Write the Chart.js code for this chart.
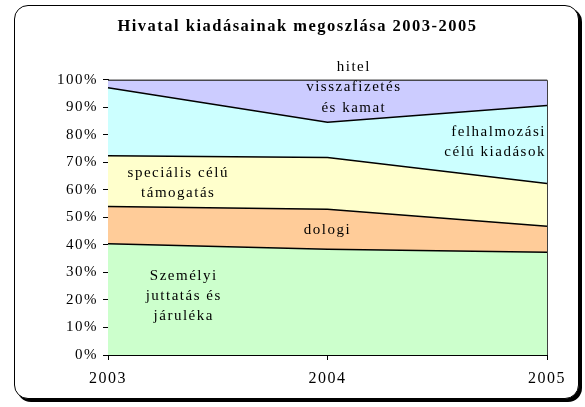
<!DOCTYPE html>
<html>
<head>
<meta charset="utf-8">
<script src="https://cdn.jsdelivr.net/npm/chart.js@4/dist/chart.umd.min.js"></script>
<style>
  body { margin: 0; background: #fff; }
  #frame {
    position: absolute; left: 14px; top: 5px; width: 563px; height: 392px;
    border: 1px solid #000; border-radius: 14px; box-shadow: 3px 3px 0 #000;
    background: #fff;
  }
  #wrap { position: absolute; left: 0; top: 0; width: 585px; height: 407px; }
</style>
</head>
<body>
<div id="frame"></div>
<div id="wrap"><canvas id="myAreaChart" width="585" height="407"></canvas></div>
<script>
// evek
var years = ['2003', '2004', '2005'];

// megoszlas, szazalek (a kepről leolvasva)
var szemelyi = [40.4, 38.4, 37.3];
var dologi = [13.6, 14.6, 9.5];
var specialis = [18.4, 18.8, 15.5];
var felhalmozasi = [24.7, 12.8, 28.4];
var hitel = [2.9, 15.4, 9.3];

var yTicks = [0, 10, 20, 30, 40, 50, 60, 70, 80, 90, 100];

// feliratok a teruleteken: [sorok, x index, y ertek, igazitas]
var areaLabels = [
    [['hitel', 'visszafizetés', 'és kamat'], 1.12, 104.5, 'center'],
    [['felhalmozási', 'célú kiadások'], 1.995, 81.1, 'right'],
    [['speciális célú', 'támogatás'], 0.32, 66.2, 'center'],
    [['dologi'], 1.0, 45.5, 'center'],
    [['Személyi', 'juttatás és', 'járuléka'], 0.345, 28.8, 'center']
];

var serif = "'Liberation Serif', 'Times New Roman', serif";

// a kepen a betuk kicsit ritkitottak
var spacingPlugin = {
    id: 'spacing',
    beforeDraw: function(chart) { chart.ctx.letterSpacing = '1.5px'; },
    beforeLayout: function(chart) { chart.ctx.letterSpacing = '1.5px'; }
};

var labelPlugin = {
    id: 'areaLabels',
    afterDatasetsDraw: function(chart) {
        var ctx = chart.ctx;
        var xs = chart.scales.x, ys = chart.scales.y;
        var area = chart.chartArea;
        ctx.save();
        // plot keret
        ctx.strokeStyle = '#404040';
        ctx.lineWidth = 1;
        ctx.beginPath();
        ctx.moveTo(area.left, area.top + 0.5);
        ctx.lineTo(area.right + 0.5, area.top + 0.5);
        ctx.lineTo(area.right + 0.5, area.bottom);
        ctx.stroke();
        ctx.fillStyle = '#000';
        ctx.font = '15px ' + serif;
        ctx.textBaseline = 'middle';
        var step = ys.getPixelForValue(0) - ys.getPixelForValue(7.3);
        areaLabels.forEach(function(l) {
            var x = xs.getPixelForValue(l[1]);
            var y = ys.getPixelForValue(l[2]);
            ctx.textAlign = l[3];
            for (var i = 0; i < l[0].length; i++) {
                ctx.fillText(l[0][i], x, y + i * step);
            }
        });
        ctx.restore();
    }
};

function ds(label, data, color, fill) {
    return {
        label: label,
        data: data,
        backgroundColor: color,
        borderColor: '#000',
        borderWidth: 1.5,
        pointRadius: 0,
        tension: 0,
        fill: fill
    };
}

new Chart(document.getElementById('myAreaChart'), {
    type: 'line',
    data: {
        labels: years,
        datasets: [
            ds('Személyi juttatás és járuléka', szemelyi, '#CCFFCC', 'origin'),
            ds('dologi', dologi, '#FFCC99', '-1'),
            ds('speciális célú támogatás', specialis, '#FFFFCC', '-1'),
            ds('felhalmozási célú kiadások', felhalmozasi, '#CCFFFF', '-1'),
            ds('hitel visszafizetés és kamat', hitel, '#CCCCFF', '-1')
        ]
    },
    options: {
        responsive: false,
        animation: false,
        layout: { padding: { left: 48, right: 38, top: 0, bottom: 17 } },
        plugins: {
            legend: { display: false },
            tooltip: { enabled: false },
            title: {
                display: true,
                text: 'Hivatal kiadásainak megoszlása 2003-2005',
                color: '#000',
                font: { family: serif, size: 16.5, weight: 'bold' },
                padding: { top: 17, bottom: 43 }
            }
        },
        scales: {
            x: {
                offset: false,
                grid: { drawOnChartArea: false, drawTicks: true, tickLength: 5, color: '#000' },
                border: { display: true, color: '#000' },
                ticks: { color: '#000', maxRotation: 0, padding: 9, font: { family: serif, size: 16 } },
                afterFit: function(scale) { scale.height = 35; }
            },
            y: {
                stacked: true,
                min: 0,
                max: 100,
                afterBuildTicks: function(scale) {
                    scale.ticks = yTicks.map(function(v) { return { value: v }; });
                },
                grid: { drawOnChartArea: false, drawTicks: true, tickLength: 5, color: '#000' },
                border: { display: true, color: '#000' },
                ticks: {
                    color: '#000',
                    padding: 5,
                    font: { family: serif, size: 15 },
                    callback: function(v) { return v + '%'; }
                },
                afterFit: function(scale) { scale.width = 60; }
            }
        }
    },
    plugins: [spacingPlugin, labelPlugin]
});
</script>
</body>
</html>
